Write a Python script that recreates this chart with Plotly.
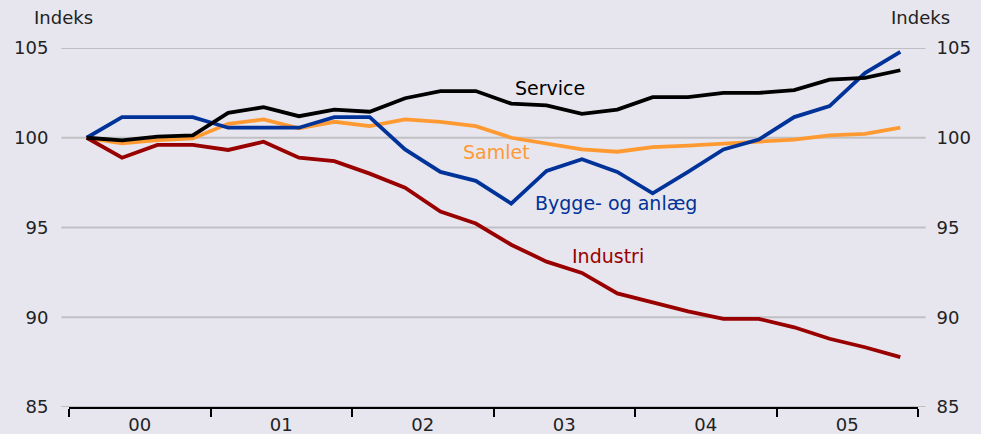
import plotly.graph_objects as go

quarters = list(range(24))
year_labels = ["00", "01", "02", "03", "04", "05"]

samlet = [100.0, 99.69, 99.87, 99.96, 100.78, 101.02, 100.52, 100.89, 100.65, 101.02, 100.89, 100.65,
          100.0, 99.67, 99.35, 99.22, 99.48, 99.56, 99.69, 99.82, 99.9, 100.13, 100.22, 100.56]
service = [100.0, 99.85, 100.06, 100.13, 101.39, 101.7, 101.2, 101.57, 101.45, 102.2, 102.6, 102.6,
           101.9, 101.8, 101.33, 101.57, 102.26, 102.26, 102.5, 102.5, 102.65, 103.24, 103.33, 103.76]
bygge = [100.0, 101.15, 101.15, 101.15, 100.56, 100.56, 100.56, 101.15, 101.15, 99.35, 98.1, 97.6,
         96.33, 98.15, 98.8, 98.1, 96.9, 98.1, 99.35, 99.9, 101.15, 101.76, 103.6, 104.78]
industri = [100.0, 98.89, 99.6, 99.6, 99.32, 99.78, 98.89, 98.7, 98.0, 97.22, 95.89, 95.22,
            94.04, 93.1, 92.47, 91.33, 90.83, 90.33, 89.91, 89.91, 89.44, 88.8, 88.33, 87.78]

y_ticks = [85, 90, 95, 100, 105]

BG = "#e7e6ee"
FONT = "DejaVu Sans"
TXT = "#222222"

fig = go.Figure()
series = [
    ("Samlet", samlet, "#ff9a33"),
    ("Industri", industri, "#990000"),
    ("Bygge- og anlæg", bygge, "#003399"),
    ("Service", service, "#000000"),
]
for name, vals, col in series:
    fig.add_trace(go.Scatter(x=quarters, y=vals, mode="lines", name=name,
                             line=dict(color=col, width=3.8), showlegend=False))

# invisible trace for right axis
fig.add_trace(go.Scatter(x=[quarters[0]], y=[100], yaxis="y2", mode="markers",
                         marker=dict(opacity=0), showlegend=False, hoverinfo="skip"))

shapes = []
for v in y_ticks:
    shapes.append(dict(type="line", xref="paper", yref="y", x0=-0.009, x1=1.009, y0=v, y1=v,
                       line=dict(color="#c0c0c4", width=2), layer="below"))

annotations = [
    dict(text="Service", x=13.09, y=102.77, xref="x", yref="y",
         font=dict(family=FONT, size=19, color="#000000")),
    dict(text="Samlet", x=11.59, y=99.2, xref="x", yref="y",
         font=dict(family=FONT, size=19, color="#ff9a33")),
    dict(text="Bygge- og anlæg", x=14.95, y=96.36, xref="x", yref="y",
         font=dict(family=FONT, size=19, color="#003399")),
    dict(text="Industri", x=14.73, y=93.39, xref="x", yref="y",
         font=dict(family=FONT, size=19, color="#990000")),
    dict(text="Indeks", x=63, y=18, xref="paper", yref="paper",
         font=dict(family=FONT, size=18, color=TXT)),
    dict(text="Indeks", x=920, y=18, xref="paper", yref="paper",
         font=dict(family=FONT, size=18, color=TXT)),
]
for a in annotations:
    a.update(showarrow=False, xanchor="center", yanchor="middle")
# convert pixel positions of "Indeks" labels into paper coords
W, H = 981, 434
L, R, T, B = 69, 63, 48, 27
pw, ph = W - L - R, H - T - B
for a in annotations[4:]:
    px, py = a["x"], a["y"]
    a["x"] = (px - L) / pw
    a["y"] = (H - B - py) / ph

fig.update_layout(
    width=W, height=H,
    margin=dict(l=L, r=R, t=T, b=B, autoexpand=False),
    paper_bgcolor=BG, plot_bgcolor=BG,
    font=dict(family=FONT, size=18, color=TXT),
    shapes=shapes, annotations=annotations,
    xaxis=dict(range=[-0.5, 23.5], tickmode="array", automargin=False,
               tickvals=[1.5 + 4 * i for i in range(6)], ticktext=year_labels,
               ticks="", showgrid=False, zeroline=False,
               showline=True, linecolor="#000000", linewidth=2,
               tickfont=dict(family=FONT, size=18, color=TXT),
               minor=dict(tickmode="array", tickvals=[-0.5 + 4 * i for i in range(7)],
                          ticks="outside", ticklen=8, tickwidth=2, tickcolor="#000000",
                          showgrid=False)),
    yaxis=dict(range=[85, 105], tickmode="array", tickvals=y_ticks, automargin=False,
               showgrid=False, zeroline=False, ticks="outside", ticklen=16,
               tickcolor="rgba(0,0,0,0)", tickfont=dict(family=FONT, size=18, color=TXT)),
    yaxis2=dict(range=[85, 105], tickmode="array", tickvals=y_ticks, overlaying="y",
                side="right", showgrid=False, zeroline=False, ticks="outside", ticklen=14,
                automargin=False,
                tickcolor="rgba(0,0,0,0)", tickfont=dict(family=FONT, size=18, color=TXT)),
)

fig.write_html("out.html", config={"displayModeBar": False},
               post_script="document.body.style.margin='0';document.body.style.overflow='hidden';")
